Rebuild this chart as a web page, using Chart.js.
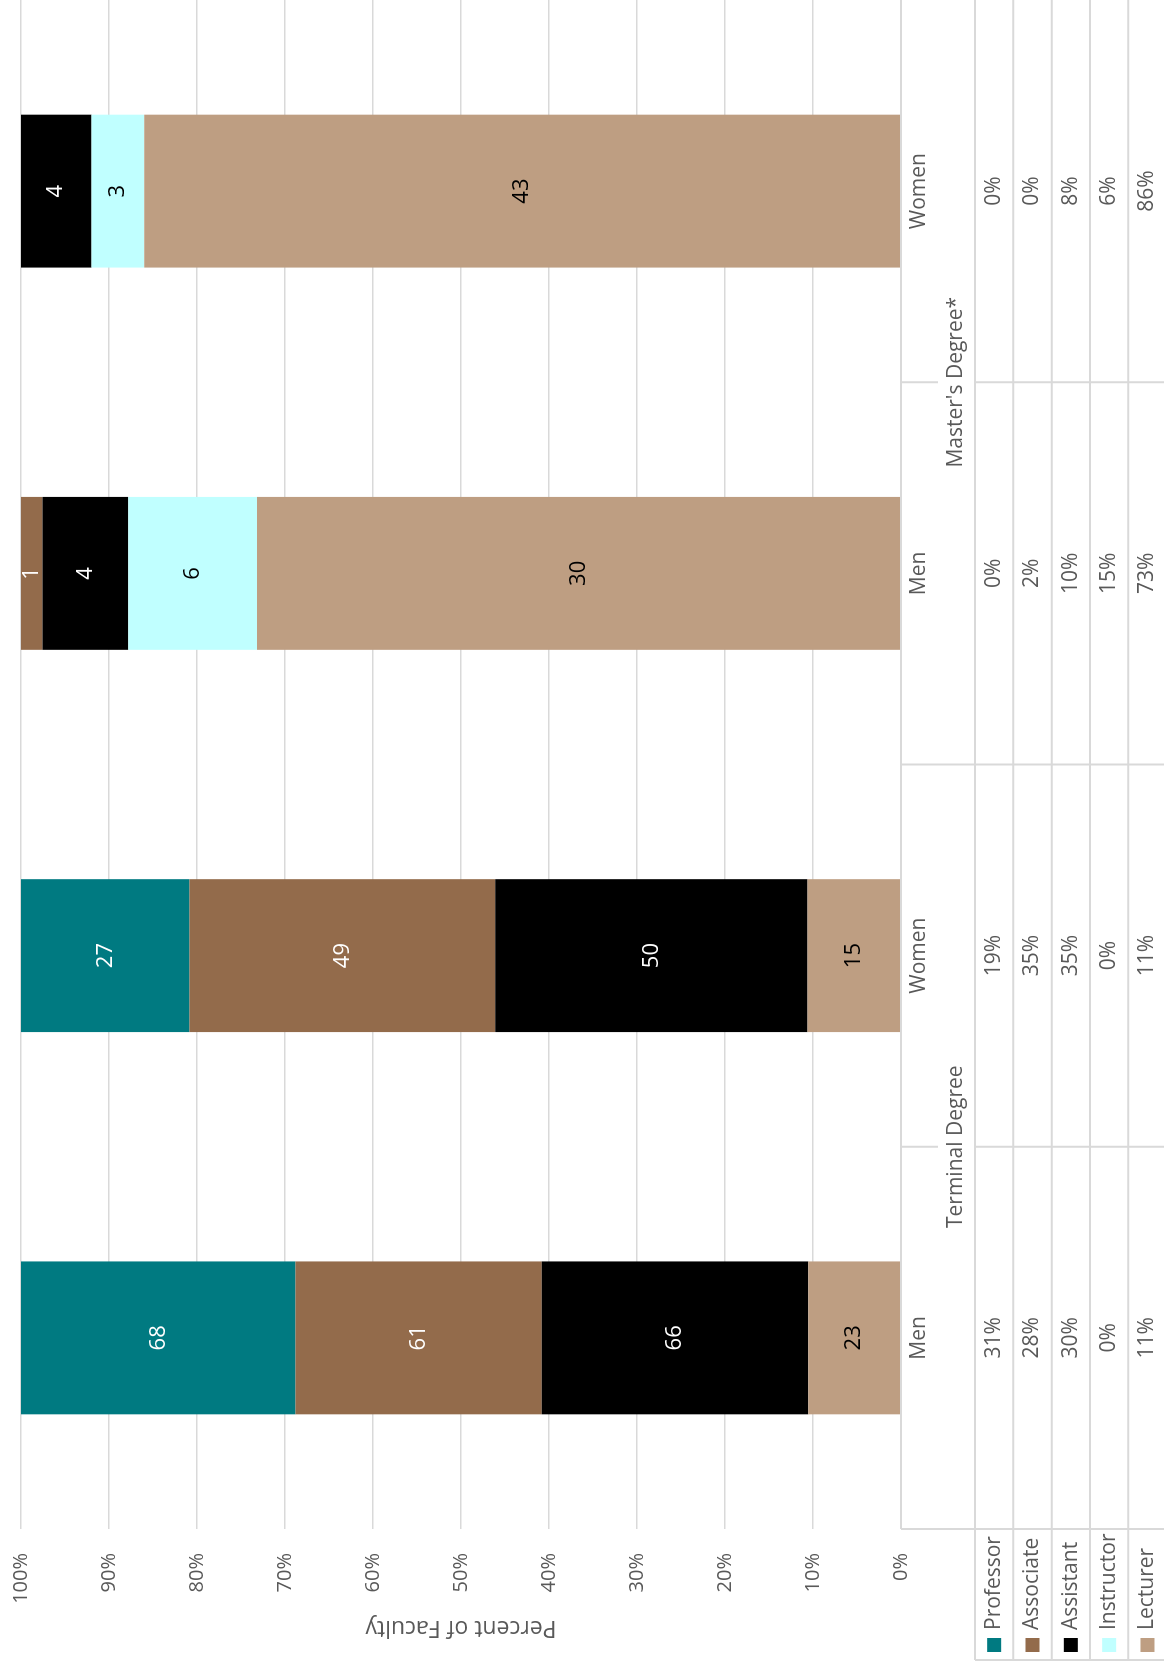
<!DOCTYPE html>
<html>
<head>
<meta charset="utf-8">
<title>Faculty by Rank and Degree</title>
<script src="https://cdn.jsdelivr.net/npm/chart.js@4.4.1/dist/chart.umd.min.js"></script>
<style>
  html, body { margin: 0; padding: 0; background: #fff; overflow: hidden; }
  body { width: 1164px; height: 1667px; position: relative; }
  /* the chart is laid out landscape and turned a quarter turn */
  #wrap { position: absolute; left: 0; top: 0; width: 1667px; height: 1164px;
          transform-origin: 0 0; transform: translate(0, 1667px) rotate(-90deg); }
</style>
</head>
<body>
<div id="wrap"><canvas id="chart" width="1667" height="1164"></canvas></div>
<script>
const categories = ['Men', 'Women', 'Men', 'Women'];
const groups = ['Terminal Degree', "Master's Degree*"];
const ranks = ['Professor', 'Associate', 'Assistant', 'Instructor', 'Lecturer'];
const colors = ['#007a81', '#936b4b', '#000000', '#c0ffff', '#be9e82'];
const labelColors = ['#ffffff', '#ffffff', '#ffffff', '#000000', '#000000'];

// head counts, one per category (Men/Women x Terminal/Master's)
const professor = [68, 27, 0, 0];
const associate = [61, 49, 1, 0];
const assistant = [66, 50, 4, 4];
const instructor = [0, 0, 6, 3];
const lecturer = [23, 15, 30, 43];
const counts = [professor, associate, assistant, instructor, lecturer];

const totals = categories.map((c, i) => counts.reduce((s, arr) => s + arr[i], 0));
const percents = counts.map(arr => arr.map((v, i) => v / totals[i] * 100));

const textGrey = '#595959';
const lineGrey = '#d9d9d9';
const font = "'Open Sans', sans-serif";
Chart.defaults.font.family = font;

// Lecturer sits at the base of each column, Professor on top
const stackOrder = [4, 3, 2, 1, 0];

// count labels in the middle of each segment
const barLabels = {
  id: 'barLabels',
  afterDatasetsDraw(chart) {
    const ctx = chart.ctx;
    ctx.save();
    ctx.font = '22px ' + font;
    ctx.textAlign = 'center';
    ctx.textBaseline = 'middle';
    chart.data.datasets.forEach((ds, di) => {
      const r = ds.rank;
      chart.getDatasetMeta(di).data.forEach((bar, i) => {
        const n = counts[r][i];
        if (!n) return;
        ctx.fillStyle = labelColors[r];
        ctx.fillText(String(n), bar.x, (bar.y + bar.base) / 2);
      });
    });
    ctx.restore();
  }
};

// data table under the plot, with category rows and legend keys
const dataTable = {
  id: 'dataTable',
  afterDraw(chart) {
    const ctx = chart.ctx;
    const area = chart.chartArea;
    const catW = (area.right - area.left) / categories.length;
    const top = area.bottom;
    const rowCat = top + 37;
    const rowGrp = top + 74;
    const rowH = 38.33;
    const bottom = rowGrp + ranks.length * rowH;
    const legendLeft = 7;

    ctx.save();
    ctx.strokeStyle = lineGrey;
    ctx.lineWidth = 2;
    const line = (x1, y1, x2, y2) => {
      ctx.beginPath(); ctx.moveTo(x1, y1); ctx.lineTo(x2, y2); ctx.stroke();
    };

    line(area.left, top, area.right, top);
    line(area.left, top, area.left, bottom);
    for (let i = 1; i < categories.length; i++) {
      const x = area.left + i * catW;
      if (i % 2 === 0) {
        line(x, top, x, bottom);
      } else {
        line(x, top, x, rowCat);
        line(x, rowGrp, x, bottom);
      }
    }
    for (let r = 0; r <= ranks.length; r++) {
      const y = rowGrp + r * rowH;
      line(legendLeft, y, area.right, y);
    }
    line(legendLeft, rowGrp, legendLeft, bottom);

    ctx.fillStyle = textGrey;
    ctx.font = '21px ' + font;
    ctx.textAlign = 'center';
    ctx.textBaseline = 'middle';
    categories.forEach((c, i) => {
      ctx.fillText(c, area.left + (i + 0.5) * catW, top + 18.5);
    });
    groups.forEach((g, gi) => {
      ctx.fillText(g, area.left + (gi + 0.5) * 2 * catW, rowGrp - 18.5);
    });
    ranks.forEach((rk, r) => {
      const cy = rowGrp + (r + 0.5) * rowH;
      percents[r].forEach((p, i) => {
        ctx.fillText(Math.round(p) + '%', area.left + (i + 0.5) * catW, cy);
      });
    });

    ctx.textAlign = 'left';
    ranks.forEach((rk, r) => {
      const cy = rowGrp + (r + 0.5) * rowH;
      ctx.fillStyle = colors[r];
      ctx.fillRect(15, cy - 7, 14, 14);
      ctx.fillStyle = textGrey;
      ctx.fillText(rk, 37, cy);
    });
    ctx.restore();
  }
};

new Chart(document.getElementById('chart').getContext('2d'), {
  type: 'bar',
  data: {
    labels: categories,
    datasets: stackOrder.map(r => ({
      label: ranks[r],
      rank: r,
      data: percents[r],
      backgroundColor: colors[r],
      borderWidth: 0,
      categoryPercentage: 1,
      barPercentage: 0.4
    }))
  },
  options: {
    responsive: false,
    animation: false,
    devicePixelRatio: 1,
    layout: { padding: { left: 0, right: 0, top: 21, bottom: 263 } },
    plugins: { legend: { display: false }, tooltip: { enabled: false } },
    scales: {
      x: { stacked: true, display: false },
      y: {
        stacked: true,
        min: 0,
        max: 100,
        afterFit(scale) {
          scale.width = 138;
          scale.paddingTop = 0;
          scale.paddingBottom = 0;
        },
        border: { display: false },
        grid: { color: lineGrey, lineWidth: 1.5, drawTicks: false },
        ticks: {
          stepSize: 10,
          padding: 24,
          color: textGrey,
          font: { size: 20 },
          callback: v => v + '%'
        },
        title: {
          display: true,
          text: 'Percent of Faculty',
          color: textGrey,
          font: { size: 23 },
          padding: { top: 26, bottom: 0 }
        }
      }
    }
  },
  plugins: [barLabels, dataTable]
});
</script>
</body>
</html>
